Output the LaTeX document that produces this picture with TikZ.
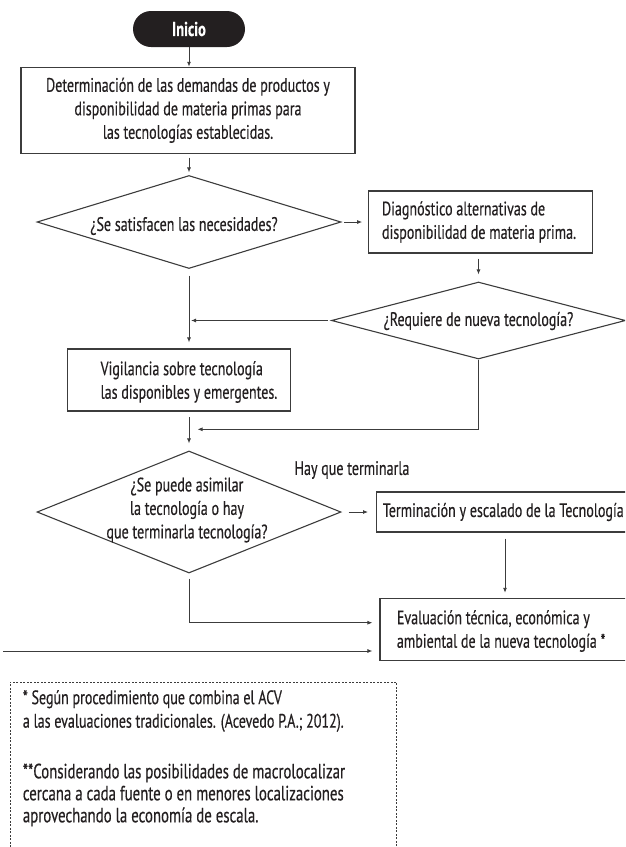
\documentclass[tikz,border=0pt]{standalone}
\usepackage{fontspec}
\setmainfont{PT Sans}[FakeStretch=0.72,FakeBold=0.4]
\usetikzlibrary{shapes.geometric,arrows.meta}
\definecolor{lncol}{HTML}{3C3C3C}
\definecolor{txcol}{HTML}{231F20}
\begin{document}
\begin{tikzpicture}[x=1pt,y=-1pt,
  every node/.style={font=\fontsize{19.5}{23.5}\selectfont, text=txcol},
  box/.style={draw=lncol, line width=1.1pt, rectangle, inner sep=0pt},
  dia/.style={draw=lncol, line width=1.1pt, diamond, inner sep=0pt},
  txt/.style={inner sep=0pt, align=center},
  txtl/.style={inner sep=0pt, align=left, anchor=west},
  arr/.style={draw=lncol, line width=0.9pt, -{Latex[length=5pt,width=4pt]}},
  fnbox/.style={draw=lncol, line width=0.8pt, dash pattern=on 2pt off 1.5pt, rectangle, inner sep=0pt},
]
\useasboundingbox (0,0) rectangle (625,847);
\clip (0,0) rectangle (625,847);

% nodes
\node[fill=txcol, rounded corners=18pt, minimum width=112pt, minimum height=36pt, inner sep=0pt,
      text=white, font=\bfseries\fontsize{20}{22}\selectfont] (start) at (189,29) {Inicio};
\node[box, align=center, minimum width=334pt, minimum height=86pt] (b1) at (188,110.3)
  {Determinación de las demandas de productos y\\disponibilidad de materia primas para\\las tecnologías establecidas.};

\node[dia, minimum width=304pt, minimum height=93pt] (d1) at (189,222) {};
\node[txt] (d1t) at (184,226) {¿Se satisfacen las necesidades?};

\node[box, minimum width=224pt, minimum height=62pt] (b2) at (480.7,222) {};
\node[txtl] (b2t) at (381.8,222) {Diagnóstico alternativas de\\disponibilidad de materia prima.};

\node[dia, minimum width=294pt, minimum height=77pt] (d2) at (478.5,320.5) {};
\node[txt] (d2t) at (478.5,321) {¿Requiere de nueva tecnología?};

\node[box, minimum width=223pt, minimum height=62pt] (b3) at (179.4,380) {};
\node[txtl] (b3t) at (100.4,382) {Vigilancia sobre tecnología\\las disponibles y emergentes.};

\node[dia, minimum width=304pt, minimum height=122pt] (d3) at (189,512) {};
\node[txt] (d3t) at (187,510) {¿Se puede asimilar\\la tecnología o hay\\que terminarla tecnología?};
\node[txt] (lab) at (352,470) {Hay que terminarla};

\node[box, minimum width=256.8pt, minimum height=40pt] (b4) at (505,512) {};
\node[txtl] (b4t) at (382.6,512) {Terminación y escalado de la Tecnología};

\node[box, minimum width=250pt, minimum height=61.7pt] (b5) at (505,629.2) {};
\node[txtl] (b5t) at (396.7,631) {Evaluación técnica, económica y\\ambiental de la nueva tecnología *};

\node[fnbox, minimum width=386.6pt, minimum height=180pt] (fn) at (203.3,772) {};
\node[txtl] (fn1) at (22.7,711) {* Según procedimiento que combina el ACV\\a las evaluaciones tradicionales. (Acevedo P.A.; 2012).};
\node[txtl, font=\fontsize{20.6}{22}\selectfont] (fn2) at (22.7,795) {**Considerando las posibilidades de macrolocalizar\\cercana a cada fuente o en menores localizaciones\\aprovechando la economía de escala.};

% coordinates
\coordinate (c2) at (189,429.3);
\coordinate (c4) at (189,622.7);
\coordinate (c5) at (3,651);

% connectors
\draw[arr] (start.south) -- (start.south |- b1.north);
\draw[arr, shorten <=3.7pt, shorten >=2.5pt] (b1.south -| d1.north) -- (d1.north);
\draw[arr, shorten <=2.6pt, shorten >=6pt] (d1.east) -- (d1.east -| b2.west);
\draw[arr, shorten <=5pt, shorten >=7pt] (b2.south -| d2.north) -- (d2.north);
\draw[arr, shorten <=6.5pt, shorten >=6pt] (d1.south) -- (d1.south |- b3.north);
\draw[arr, shorten <=3pt, shorten >=2pt] (d2.west) -- (d2.west -| d1.south);
\draw[arr, shorten <=5.7pt, shorten >=7pt] (b3.south -| d3.north) -- (d3.north);
\draw[arr, shorten >=8.5pt] (d2.south) |- (c2);
\draw[arr, shorten <=7pt, shorten >=8pt] (d3.east) -- (d3.east -| b4.west);
\draw[arr, shorten <=6pt, shorten >=5pt] (b4.south) -- (b5.north);
\draw[arr, shorten >=7pt] ([yshift=-5pt]d3.south) -- (c4) -- (c4 -| b5.west);
\draw[arr, shorten >=7pt] (c5) -- (c5 -| b5.west);
\end{tikzpicture}
\end{document}
